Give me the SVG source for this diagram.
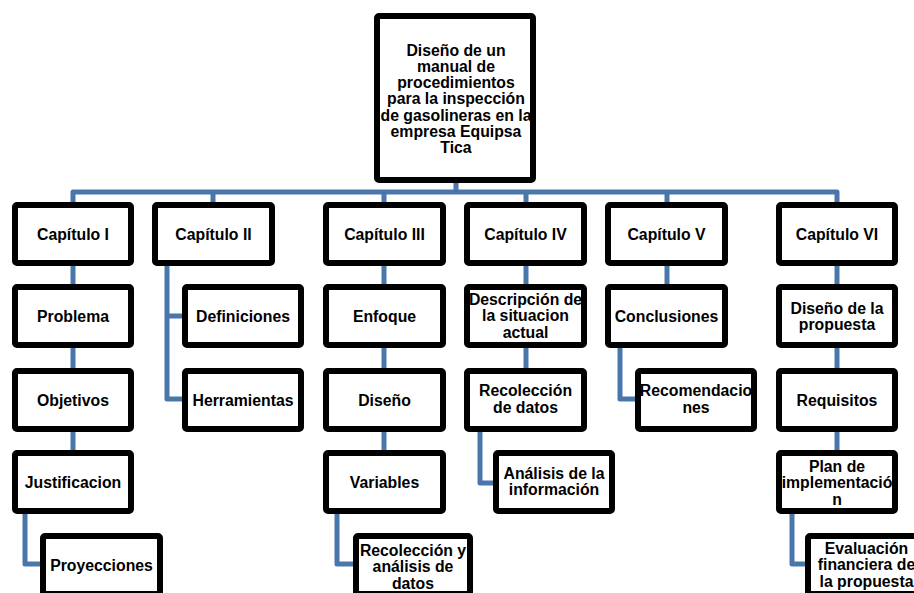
<svg xmlns="http://www.w3.org/2000/svg" width="914" height="593" viewBox="0 0 914 593">
<style>
.box{fill:#fff;stroke:#000;stroke-width:6;}
.t{font-family:"Liberation Sans",Arial,sans-serif;font-weight:bold;font-size:15.8px;fill:#000;text-anchor:middle;}
.c{fill:none;stroke:#4a77ab;stroke-width:5;stroke-linejoin:round;}
</style>
<rect width="914" height="593" fill="#fff"/>
<g id="connectors">
<path class="c" d="M456,183 V192"/>
<path class="c" d="M73,202 V192 H837 V202"/>
<path class="c" d="M213,192 V202 M384,192 V202 M526,192 V202 M667,192 V202"/>
<path class="c" d="M73,266 V450"/>
<path class="c" d="M25,514 V564 H40"/>
<path class="c" d="M167,266 V399 H182 M167,316 H182"/>
<path class="c" d="M384,266 V450"/>
<path class="c" d="M337,514 V564 H353"/>
<path class="c" d="M526,266 V368"/>
<path class="c" d="M480,432 V483 H493"/>
<path class="c" d="M667,266 V284"/>
<path class="c" d="M620,348 V399 H635"/>
<path class="c" d="M837,266 V450"/>
<path class="c" d="M792,514 V564 H805"/>
</g>
<g id="root">
<rect class="box" x="377" y="16" width="156" height="164" rx="2"/>
<text class="t"><tspan x="456" y="55.5">Diseño de un</tspan><tspan x="456" y="71.8">manual de</tspan><tspan x="456" y="88.1">procedimientos</tspan><tspan x="456" y="104.4">para la inspección</tspan><tspan x="456" y="120.7">de gasolineras en la</tspan><tspan x="456" y="137">empresa Equipsa</tspan><tspan x="456" y="153.3">Tica</tspan></text>
</g>
<g id="cap1"><rect class="box" x="15" y="205" width="116" height="58" rx="2"/><text class="t" x="73" y="239.5">Capítulo I</text></g>
<g id="cap2"><rect class="box" x="155" y="205" width="117" height="58" rx="2"/><text class="t" x="213.5" y="239.5">Capítulo II</text></g>
<g id="cap3"><rect class="box" x="326" y="205" width="117" height="58" rx="2"/><text class="t" x="384.5" y="239.5">Capítulo III</text></g>
<g id="cap4"><rect class="box" x="467" y="205" width="117" height="58" rx="2"/><text class="t" x="525.5" y="239.5">Capítulo IV</text></g>
<g id="cap5"><rect class="box" x="608" y="205" width="117" height="58" rx="2"/><text class="t" x="666.5" y="239.5">Capítulo V</text></g>
<g id="cap6"><rect class="box" x="779" y="205" width="116" height="58" rx="2"/><text class="t" x="837" y="239.5">Capítulo VI</text></g>

<g id="problema"><rect class="box" x="15" y="287" width="116" height="58" rx="2"/><text class="t" x="73" y="321.5">Problema</text></g>
<g id="objetivos"><rect class="box" x="15" y="371" width="116" height="58" rx="2"/><text class="t" x="73" y="405.5">Objetivos</text></g>
<g id="justificacion"><rect class="box" x="15" y="453" width="116" height="58" rx="2"/><text class="t" x="73" y="487.5">Justificacion</text></g>
<g id="proyecciones"><rect class="box" x="43" y="536" width="117" height="58" rx="2"/><text class="t" x="101.5" y="570.5">Proyecciones</text></g>

<g id="definiciones"><rect class="box" x="185" y="287" width="116" height="58" rx="2"/><text class="t" x="243" y="321.5">Definiciones</text></g>
<g id="herramientas"><rect class="box" x="185" y="371" width="116" height="58" rx="2"/><text class="t" x="243" y="405.5">Herramientas</text></g>

<g id="enfoque"><rect class="box" x="326" y="287" width="117" height="58" rx="2"/><text class="t" x="384.5" y="321.5">Enfoque</text></g>
<g id="diseno"><rect class="box" x="326" y="371" width="117" height="58" rx="2"/><text class="t" x="384.5" y="405.5">Diseño</text></g>
<g id="variables"><rect class="box" x="326" y="453" width="117" height="58" rx="2"/><text class="t" x="384.5" y="487.5">Variables</text></g>
<g id="recoleccion-analisis"><rect class="box" x="356" y="536" width="114" height="58" rx="2"/><text class="t"><tspan x="413" y="555.5">Recolección y</tspan><tspan x="413" y="572">análisis de</tspan><tspan x="413" y="588.5">datos</tspan></text></g>

<g id="descripcion"><rect class="box" x="467" y="287" width="117" height="58" rx="2"/><text class="t"><tspan x="525.5" y="304.5">Descripción de</tspan><tspan x="525.5" y="321">la situacion</tspan><tspan x="525.5" y="337.5">actual</tspan></text></g>
<g id="recoleccion-datos"><rect class="box" x="467" y="371" width="117" height="58" rx="2"/><text class="t"><tspan x="525.5" y="396">Recolección</tspan><tspan x="525.5" y="412.5">de datos</tspan></text></g>
<g id="analisis"><rect class="box" x="496" y="453" width="116" height="58" rx="2"/><text class="t"><tspan x="554" y="478.5">Análisis de la</tspan><tspan x="554" y="495">información</tspan></text></g>

<g id="conclusiones"><rect class="box" x="608" y="287" width="117" height="58" rx="2"/><text class="t" x="666.5" y="321.5">Conclusiones</text></g>
<g id="recomendaciones"><rect class="box" x="638" y="371" width="116" height="58" rx="2"/><text class="t"><tspan x="696" y="396">Recomendacio</tspan><tspan x="696" y="412.5">nes</tspan></text></g>

<g id="diseno-propuesta"><rect class="box" x="779" y="287" width="116" height="58" rx="2"/><text class="t"><tspan x="837" y="313.5">Diseño de la</tspan><tspan x="837" y="330">propuesta</tspan></text></g>
<g id="requisitos"><rect class="box" x="779" y="371" width="116" height="58" rx="2"/><text class="t" x="837" y="405.5">Requisitos</text></g>
<g id="plan"><rect class="box" x="779" y="453" width="116" height="58" rx="2"/><text class="t"><tspan x="837" y="471.5">Plan de</tspan><tspan x="837" y="488">implementació</tspan><tspan x="837" y="504.5">n</tspan></text></g>
<g id="evaluacion"><rect class="box" x="808" y="536" width="117" height="58" rx="2"/><text class="t"><tspan x="866.5" y="553.5">Evaluación</tspan><tspan x="866.5" y="570">financiera de</tspan><tspan x="866.5" y="586.5">la propuesta</tspan></text></g>
</svg>
